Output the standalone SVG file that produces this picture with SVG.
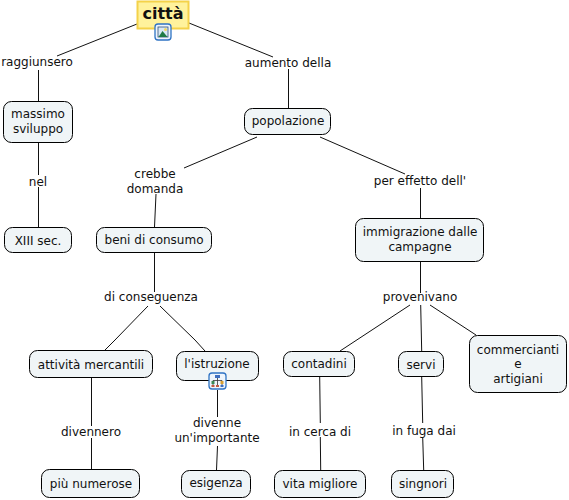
<svg xmlns="http://www.w3.org/2000/svg" width="569" height="500" viewBox="0 0 569 500">
<style>
.c{fill:none;stroke:#111;stroke-width:1}
.n{fill:#f0f5f7;stroke:#000;stroke-width:1}
.i{fill:#eef5fc;stroke:#2f73c4;stroke-width:1.300}
text{font-family:"DejaVu Sans",Verdana,sans-serif;font-size:12px;fill:#111;text-anchor:middle}
</style>
<rect width="569" height="500" fill="#fff"/>
<g id="connectors">
<path class="c" d="M137 24L57 56M189 23L273 57M38.500 70V101M288.500 69V108M38.500 142V175M38.500 187V227M257 137L184 168M320 137L405 174M156 194L154.500 227M420.500 188V218M154.500 253V292M115 340L105 350M195 340L205 351M148 306L115 340M160 306L195 340M420.500 261V293M410 305L340 351M420.700 305L421.700 351M430 305L476 335M91.500 377V426M91.500 438V469M217.500 390V417M217.500 446L216.500 470M319.700 377L320.300 423M320.300 437L320.700 470M421.700 377L422.700 423M422.700 437L423.700 470"/>
</g>
<g id="l1"><text x="37" y="66">raggiunsero</text></g>
<g id="l2"><text x="288" y="67">aumento della</text></g>
<g id="l3"><text x="38" y="186">nel</text></g>
<g id="l4"><text x="155" y="178">crebbe</text><text x="155" y="193">domanda</text></g>
<g id="l5"><text x="420" y="185">per effetto dell'</text></g>
<g id="l6"><text x="151" y="301">di conseguenza</text></g>
<g id="l7"><text x="420" y="301">provenivano</text></g>
<g id="l8"><text x="91" y="436">divennero</text></g>
<g id="l9"><text x="217" y="427">divenne</text><text x="217" y="442">un'importante</text></g>
<g id="l10"><text x="320" y="436">in cerca di</text></g>
<g id="l11"><text x="424" y="435">in fuga dai</text></g>
<g id="citta"><rect x="137.500" y="1.500" width="51" height="27" fill="#fff29c" stroke="#f4d24a" stroke-width="2"/><text x="163" y="19" style="font-size:16px;font-weight:bold">città</text>
<rect class="i" x="155" y="24" width="16" height="16" rx="3"/><rect x="158" y="27" width="10" height="10" fill="#d8e8f4" stroke="#30507a" stroke-width="0.800"/><circle cx="165.500" cy="29.500" r="1.500" fill="#f2d860"/><path d="M158.500 37L162.500 31L167.500 37Z" fill="#1f7a45"/></g>
<g id="massimo"><rect class="n" x="3.500" y="101.500" width="69" height="41" rx="8"/><text x="38" y="118">massimo</text><text x="38" y="133">sviluppo</text></g>
<g id="xiii"><rect class="n" x="4.500" y="227.500" width="67" height="25" rx="8"/><text x="38" y="245">XIII sec.</text></g>
<g id="popolazione"><rect class="n" x="244.500" y="108.500" width="86" height="26" rx="8"/><text x="288" y="125">popolazione</text></g>
<g id="beni"><rect class="n" x="96.500" y="227.500" width="115" height="25" rx="8"/><text x="154" y="244">beni di consumo</text></g>
<g id="immigrazione"><rect class="n" x="355.500" y="218.500" width="128" height="43" rx="8"/><text x="420" y="236">immigrazione dalle</text><text x="420" y="251">campagne</text></g>
<g id="attivita"><rect class="n" x="29.500" y="350.500" width="123" height="27" rx="8"/><text x="91" y="369">attività mercantili</text></g>
<g id="istruzione"><rect class="n" x="176.500" y="351.500" width="82" height="29" rx="8"/><text x="217" y="368">l'istruzione</text>
<rect class="i" x="209" y="373" width="17" height="16" rx="3"/><path d="M217.500 377V385M213 385V380.500H222V385" fill="none" stroke="#333" stroke-width="0.800"/><rect x="215" y="375" width="5" height="3" fill="#3f6fc0"/><rect x="211.500" y="381" width="3" height="3" fill="#3a8a55"/><rect x="220.500" y="381" width="3" height="3" fill="#d9a030"/><rect x="211.500" y="385" width="3" height="2" fill="#c05a40"/><rect x="216" y="385" width="3" height="2" fill="#c05a40"/><rect x="220.500" y="385" width="3" height="2" fill="#3f6fc0"/></g>
<g id="contadini"><rect class="n" x="283.500" y="351.500" width="71" height="25" rx="8"/><text x="319" y="368">contadini</text></g>
<g id="servi"><rect class="n" x="398.500" y="351.500" width="45" height="25" rx="8"/><text x="421" y="369">servi</text></g>
<g id="commercianti"><rect class="n" x="469.500" y="335.500" width="97" height="57" rx="8"/><text x="518" y="354">commercianti</text><text x="518" y="368">e</text><text x="518" y="383">artigiani</text></g>
<g id="numerose"><rect class="n" x="41.500" y="469.500" width="98" height="28" rx="8"/><text x="91" y="488">più numerose</text></g>
<g id="esigenza"><rect class="n" x="181.500" y="470.500" width="69" height="27" rx="8"/><text x="216" y="487">esigenza</text></g>
<g id="vita"><rect class="n" x="274.500" y="470.500" width="91" height="27" rx="8"/><text x="320" y="488">vita migliore</text></g>
<g id="singnori"><rect class="n" x="391.500" y="470.500" width="62" height="27" rx="8"/><text x="423" y="488">singnori</text></g>
</svg>
